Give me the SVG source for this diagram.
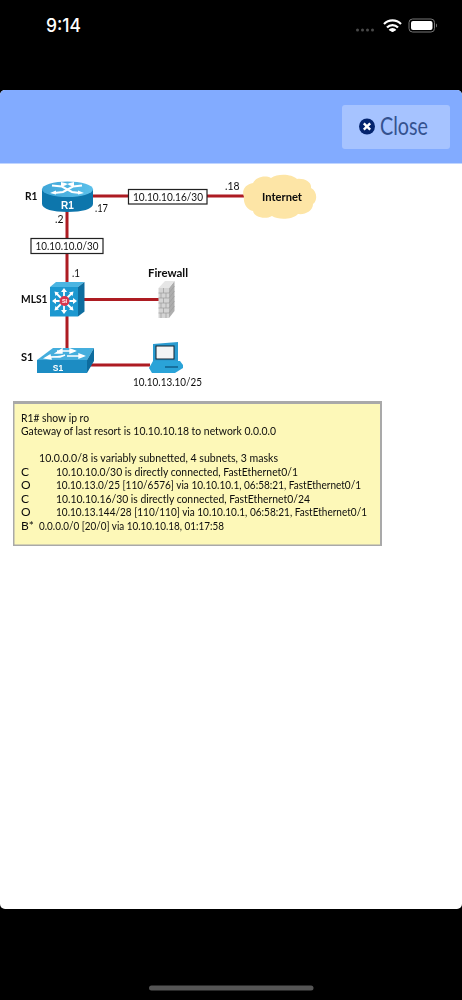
<svg xmlns="http://www.w3.org/2000/svg" width="462" height="1000" viewBox="0 0 462 1000">
<style>
text{font-family:Lato,"Open Sans","Liberation Sans",sans-serif;fill:#111}
.b{font-weight:700;font-size:12px;fill:#0a0a0a}
.t{font-size:12px;fill:#111}
.m{font-size:12px;fill:#0c0c0c}
.w{font-family:"Liberation Sans",sans-serif;font-weight:700;fill:#fff;font-size:10px}
.link{stroke:#ad1a22;stroke-width:3;fill:none}
.lab{fill:#fff;stroke:#222;stroke-width:1.200}
</style>
<defs>
<filter id="soft" x="0" y="0" width="100%" height="100%"><feGaussianBlur stdDeviation="0.35"/></filter>
<linearGradient id="blueTop" x1="0" y1="0" x2="1" y2="0"><stop offset="0" stop-color="#3fa6d8"/><stop offset="1" stop-color="#5cc0ea"/></linearGradient>
</defs>
<rect width="462" height="1000" fill="#000"/>
<g id="status-bar">
<text x="46" y="32" textLength="35" lengthAdjust="spacingAndGlyphs" style="font-family:Inter,'Liberation Sans',sans-serif;font-weight:500;font-size:19px;fill:#fff">9:14</text>
<g fill="#4a4a4a"><circle cx="357.500" cy="30" r="1.500"/><circle cx="362.500" cy="30" r="1.500"/><circle cx="367.500" cy="30" r="1.500"/><circle cx="372.500" cy="30" r="1.500"/></g>
<path d="M384 24a12 12 0 0 1 17 0M387 27.500a7.500 7.500 0 0 1 11 0M389.500 30.500a4 4 0 0 1 6 0" fill="none" stroke="#fff" stroke-width="2.200"/>
<circle cx="392.500" cy="30.500" r="1.600" fill="#fff"/>
<rect x="409" y="19" width="25.500" height="13" rx="3.500" fill="none" stroke="#777" stroke-width="1"/>
<rect x="411" y="21" width="21.500" height="9" rx="2" fill="#fff"/>
<path d="M436 23.500v4a2 2 0 0 0 1-2a2 2 0 0 0-1-2z" fill="#777"/>
</g>
<g id="modal">
<path d="M0 95a5 5 0 0 1 5-5H457a5 5 0 0 1 5 5V904a5 5 0 0 1-5 5H5a5 5 0 0 1-5-5z" fill="#fff"/>
<path d="M0 95a5 5 0 0 1 5-5H457a5 5 0 0 1 5 5V163.500H0z" fill="#82abff"/>
</g>
<g id="close-button">
<rect x="342" y="105" width="108" height="44" rx="3" fill="#a6c3ff"/>
<circle cx="367" cy="126.500" r="8" fill="#04246e"/>
<path d="M363.800 123.300l6.400 6.400M370.200 123.300l-6.400 6.400" stroke="#fff" stroke-width="2.400"/>
<text x="380" y="135" textLength="48" lengthAdjust="spacingAndGlyphs" style="font-size:25px;font-weight:400;fill:#34528f">Close</text>
</g>
<g id="diagram" filter="url(#soft)">
<g id="connectors">
<path class="link" d="M92 196H128"/>
<path class="link" d="M207 196H244"/>
<path class="link" d="M67 211V238"/>
<path class="link" d="M67 254V284"/>
<path class="link" d="M84 299.500H159"/>
<path class="link" d="M67 316V350"/>
<path class="link" d="M87 365H150"/>
</g>
<g id="label-wan">
<rect class="lab" x="128.500" y="189.500" width="78.500" height="14.500"/>
<text class="t" x="133" y="200.500" textLength="70" lengthAdjust="spacingAndGlyphs">10.10.10.16/30</text>
</g>
<g id="label-lan">
<rect class="lab" x="31" y="238.500" width="72" height="15"/>
<text class="t" x="35.500" y="249.500" textLength="63" lengthAdjust="spacingAndGlyphs">10.10.10.0/30</text>
</g>
<g id="R1">
<path d="M42 189V204C42 209 53 212 67.500 212S93 209 93 204V189z" fill="#0f76ac"/>
<ellipse cx="67.500" cy="189.300" rx="25.500" ry="7.800" fill="url(#blueTop)"/>
<g fill="none" stroke="#fff" stroke-width="2">
<path d="M52 185.500L62 186.500L72 192L80 193"/>
<path d="M82 185.500L73 186.500L63 192L54 193"/>
</g>
<path d="M50 193l6-2.500 0 4zM84 193l-6-2.500 0 4zM66 184l8-2 0 5zM69 184l-8-2 0 5z" fill="#fff"/>
<text class="w" x="67.500" y="208.500" text-anchor="middle">R1</text>
<text class="b" x="25" y="200" textLength="12.500" lengthAdjust="spacingAndGlyphs">R1</text>
<text class="t" x="95" y="212" textLength="13" lengthAdjust="spacingAndGlyphs">.17</text>
<text class="t" x="55" y="223" textLength="8.500" lengthAdjust="spacingAndGlyphs">.2</text>
</g>
<g id="Internet">
<path d="M244 197C241 190 246 184 253 183C256 177 265 175 271 178C278 173 292 174 297 179C304 178 312 182 311 188C317 191 318 200 313 204C313 211 305 215 298 214C292 220 278 220 272 216C265 220 254 217 253 211C247 210 243 203 244 197z" fill="#fde5a6"/>
<text class="b" x="262" y="200.500" textLength="40" lengthAdjust="spacingAndGlyphs">Internet</text>
<text class="t" x="225" y="190" textLength="14.500" lengthAdjust="spacingAndGlyphs">.18</text>
</g>
<g id="MLS1">
<path d="M50 287L56 282H84.500L78 287z" fill="#4bb5e2"/>
<rect x="50" y="287" width="28" height="29.500" fill="#1f98d0"/>
<path d="M78 287L84.500 282V311.500L78 316.500z" fill="#0e6d9f"/>
<g stroke="#fff" stroke-width="1.800"><path d="M64 301V291M64 301V312M64 301H54M64 301H75M64 301L56 293M64 301L72 293M64 301L56 309M64 301L72 309"/></g>
<path d="M64 288l-3 4h6zM64 314l-3-4h6zM52 301l4-3v6zM77 301l-4-3v6zM54.500 291.500l1 4.500 3.500-3.500zM73.500 291.500l-1 4.500-3.500-3.500zM54.500 310.500l1-4.500 3.500 3.500zM73.500 310.500l-1-4.500-3.500 3.500z" fill="#fff"/>
<circle cx="64.500" cy="301" r="5" fill="#d8344e"/>
<text class="w" x="64.500" y="303" text-anchor="middle" style="font-size:5.500px">SI</text>
<text class="b" x="21" y="303" textLength="26.500" lengthAdjust="spacingAndGlyphs">MLS1</text>
<text class="t" x="72" y="277" textLength="8" lengthAdjust="spacingAndGlyphs">.1</text>
</g>
<g id="Firewall">
<path d="M158.500 288H169V318H158.500z" fill="#d4d4d4"/>
<path d="M169 288L174.500 281V311L169 318z" fill="#aeaeae"/>
<path d="M158.500 288H169L174.500 281H165z" fill="#e6e6e6"/>
<path d="M158.500 293H169M158.500 298H169M158.500 303H169M158.500 308H169M158.500 313H169M169 293L174.500 286M169 298L174.500 291M169 303L174.500 296M169 308L174.500 301M169 313L174.500 306M163.500 288V293M161 293V298M166 293V298M163.500 298V303M161 303V308M166 303V308M163.500 308V313M161 313V318M166 313V318" stroke="#9c9c9c" stroke-width=".7" fill="none"/>
<text class="b" x="148" y="277" textLength="40" lengthAdjust="spacingAndGlyphs">Firewall</text>
</g>
<g id="S1">
<path d="M37 360H87V373H37z" fill="#1c8cc3"/>
<path d="M37 360H87L94 348H53z" fill="#45aedd"/>
<path d="M87 360L94 348V361L87 373z" fill="#0d6c9e"/>
<path d="M49 357H60L65 355M45 358l5-3 1 4zM57 351H70M75 351l-5-2 0 4zM67 356H80M84 356l-5-2 0 4zM56 353l6-4 0 4z" stroke="#fff" stroke-width="1.400" fill="#fff"/>
<text class="w" x="58" y="370.500" text-anchor="middle" style="font-size:8.500px">S1</text>
<text class="b" x="21" y="361" textLength="12.500" lengthAdjust="spacingAndGlyphs">S1</text>
</g>
<g id="PC">
<path d="M153 344L178 342V361L153 362z" fill="#2a9bd0"/>
<rect x="156" y="346" width="18" height="13" fill="#f2f4f5" stroke="#123" stroke-width="1"/>
<path d="M153 361H180L183 365V368L175 373H152L149 368z" fill="#2aa3d8"/>
<path d="M165 367H178" stroke="#0d4f78" stroke-width="1.200"/>
<text class="t" x="133" y="385.500" textLength="69" lengthAdjust="spacingAndGlyphs">10.10.13.10/25</text>
</g>
<g id="routing-table">
<rect x="13" y="402.500" width="368.500" height="143.500" fill="#fdf8b8" stroke="#a9a9a9" stroke-width="3"/>
<text class="m" x="21" y="421.500" textLength="68" lengthAdjust="spacingAndGlyphs">R1# show ip ro</text>
<text class="m" x="21" y="435" textLength="255" lengthAdjust="spacingAndGlyphs">Gateway of last resort is 10.10.10.18 to network 0.0.0.0</text>
<text class="m" x="39" y="462" textLength="239" lengthAdjust="spacingAndGlyphs">10.0.0.0/8 is variably subnetted, 4 subnets, 3 masks</text>
<text class="m" x="21" y="475.500">C</text>
<text class="m" x="56" y="475.500" textLength="242" lengthAdjust="spacingAndGlyphs">10.10.10.0/30 is directly connected, FastEthernet0/1</text>
<text class="m" x="21" y="489">O</text>
<text class="m" x="56" y="489" textLength="305" lengthAdjust="spacingAndGlyphs">10.10.13.0/25 [110/6576] via 10.10.10.1, 06:58:21, FastEthernet0/1</text>
<text class="m" x="21" y="502.500">C</text>
<text class="m" x="56" y="502.500" textLength="254" lengthAdjust="spacingAndGlyphs">10.10.10.16/30 is directly connected, FastEthernet0/24</text>
<text class="m" x="21" y="516">O</text>
<text class="m" x="56" y="516" textLength="311" lengthAdjust="spacingAndGlyphs">10.10.13.144/28 [110/110] via 10.10.10.1, 06:58:21, FastEthernet0/1</text>
<text class="m" x="21" y="529.500">B*</text>
<text class="m" x="39" y="529.500" textLength="185" lengthAdjust="spacingAndGlyphs">0.0.0.0/0 [20/0] via 10.10.10.18, 01:17:58</text>
</g>
</g>
<rect id="home-indicator" x="149" y="985.500" width="164.500" height="5" rx="2.500" fill="#555"/>
</svg>
